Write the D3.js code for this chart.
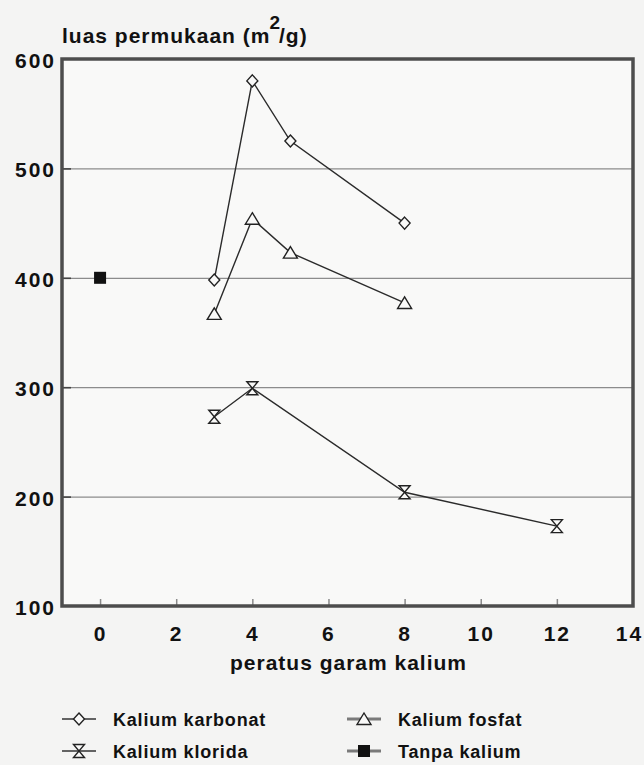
<!DOCTYPE html>
<html>
<head>
<meta charset="utf-8">
<script src="https://cdn.jsdelivr.net/npm/d3@7"></script>
<style>
  html, body { margin: 0; padding: 0; background: #f4f4f3; }
  svg { display: block; }
  text { font-family: "Liberation Sans", Arial, sans-serif; font-weight: bold; fill: #111; }
</style>
</head>
<body>
<svg id="chart" width="644" height="765"></svg>
<script>
// Surface area (m2/g) against percentage of potassium salt
const karbonatX = [3, 4, 5, 8];
const karbonatY = [398, 580, 525, 450];
const fosfatX = [3, 4, 5, 8];
const fosfatY = [367, 454, 423, 377];
const kloridaX = [3, 4, 8, 12];
const kloridaY = [273, 299, 204, 173];
const tanpaX = [0];
const tanpaY = [400];

const xTicks = [0, 2, 4, 6, 8, 10, 12, 14];
const xInnerTicks = [0, 2, 4, 6, 8, 10, 12];
const yTicks = [100, 200, 300, 400, 500, 600];
const yGrid = [200, 300, 400, 500];

const seriesNames = ["Kalium karbonat", "Kalium fosfat", "Kalium klorida", "Tanpa kalium"];

const svg = d3.select("#chart");
const plotLeft = 62, plotRight = 633, plotTop = 59, plotBottom = 606;
const FONT = "'Liberation Sans', Arial, sans-serif";

const x = d3.scaleLinear().domain([-1, 14]).range([plotLeft, plotRight]);
const y = d3.scaleLinear().domain([100, 600]).range([plotBottom, plotTop]);

// plot background
svg.append("rect")
  .attr("x", plotLeft).attr("y", plotTop)
  .attr("width", plotRight - plotLeft).attr("height", plotBottom - plotTop)
  .attr("fill", "#f9f9f8");

// horizontal grid lines
svg.append("g")
  .attr("transform", `translate(${plotLeft},0)`)
  .call(d3.axisLeft(y).tickValues(yGrid).tickSize(-(plotRight - plotLeft)).tickFormat(""))
  .call(g => g.select(".domain").remove())
  .call(g => g.selectAll("line").attr("stroke", "#8c8c8c").attr("stroke-width", 1.2));

// short ticks on the left edge
svg.append("g")
  .attr("transform", `translate(${plotLeft},0)`)
  .call(d3.axisLeft(y).tickValues(yGrid).tickSize(-9).tickFormat(""))
  .call(g => g.select(".domain").remove())
  .call(g => g.selectAll("line").attr("stroke", "#444").attr("stroke-width", 1.6));

// y tick labels
svg.append("g")
  .attr("transform", `translate(${plotLeft},0)`)
  .call(d3.axisLeft(y).tickValues(yTicks).tickSize(0).tickPadding(6))
  .call(g => g.select(".domain").remove())
  .call(g => g.selectAll("text")
    .style("font-size", "21px").style("font-family", FONT).style("letter-spacing", "2px")
    .style("font-weight", "bold").attr("fill", "#111").attr("dy", "0.4em"));

// inner ticks on the bottom edge
svg.append("g")
  .attr("transform", `translate(0,${plotBottom})`)
  .call(d3.axisBottom(x).tickValues(xInnerTicks).tickSize(-7).tickFormat(""))
  .call(g => g.select(".domain").remove())
  .call(g => g.selectAll("line").attr("stroke", "#8a8a8a").attr("stroke-width", 1.5));

// x tick labels
svg.append("g")
  .attr("transform", `translate(0,${plotBottom})`)
  .call(d3.axisBottom(x).tickValues(xTicks).tickSize(0).tickPadding(20))
  .call(g => g.select(".domain").remove())
  .call(g => g.selectAll("text")
    .style("font-size", "21px").style("font-family", FONT).style("letter-spacing", "2px")
    .style("font-weight", "bold").attr("fill", "#111")
    .attr("dx", d => d === 14 ? "-4px" : "0px"));

// frame
svg.append("rect")
  .attr("x", plotLeft).attr("y", plotTop)
  .attr("width", plotRight - plotLeft).attr("height", plotBottom - plotTop)
  .attr("fill", "none").attr("stroke", "#4d4d4d").attr("stroke-width", 3.5);

// axis titles
const yTitle = svg.append("text").attr("x", 62).attr("y", 43)
  .style("font-size", "21px").style("letter-spacing", "1px");
yTitle.append("tspan").text("luas permukaan (m");
yTitle.append("tspan").attr("dx", -1).attr("dy", -14).style("font-size", "19px").text("2");
yTitle.append("tspan").attr("dx", -2).attr("dy", 14).text("/g)");

svg.append("text")
  .attr("x", (plotLeft + plotRight) / 2 + 1).attr("y", 670)
  .attr("text-anchor", "middle").style("font-size", "21px").style("letter-spacing", "1px")
  .text("peratus garam kalium");

// marker shapes
function diamond(g, cx, cy) {
  g.append("path")
    .attr("d", `M${cx},${cy - 6}L${cx + 5.5},${cy}L${cx},${cy + 6}L${cx - 5.5},${cy}Z`)
    .attr("fill", "#f9f9f8").attr("stroke", "#222").attr("stroke-width", 1.4);
}
function triangle(g, cx, cy) {
  g.append("path")
    .attr("d", `M${cx},${cy - 6}L${cx + 7},${cy + 5.5}L${cx - 7},${cy + 5.5}Z`)
    .attr("fill", "#f9f9f8").attr("stroke", "#222").attr("stroke-width", 1.4);
}
function hourglass(g, cx, cy) {
  g.append("path")
    .attr("d", `M${cx - 5.5},${cy - 6.5}L${cx + 5.5},${cy - 6.5}L${cx - 5.5},${cy + 6.5}L${cx + 5.5},${cy + 6.5}Z`)
    .attr("fill", "#f9f9f8").attr("stroke", "#222").attr("stroke-width", 1.4);
}
function square(g, cx, cy) {
  g.append("rect")
    .attr("x", cx - 6).attr("y", cy - 6).attr("width", 12).attr("height", 12)
    .attr("fill", "#111");
}

const series = [
  { name: seriesNames[0], xs: karbonatX, ys: karbonatY, marker: diamond },
  { name: seriesNames[1], xs: fosfatX, ys: fosfatY, marker: triangle },
  { name: seriesNames[2], xs: kloridaX, ys: kloridaY, marker: hourglass },
  { name: seriesNames[3], xs: tanpaX, ys: tanpaY, marker: square }
];

const line = d3.line().x(d => x(d[0])).y(d => y(d[1]));
const plot = svg.append("g");
series.forEach(s => {
  const pts = s.xs.map((v, i) => [v, s.ys[i]]);
  if (pts.length > 1) {
    plot.append("path").datum(pts).attr("d", line)
      .attr("fill", "none").attr("stroke", "#2b2b2b").attr("stroke-width", 1.4);
  }
  pts.forEach(p => s.marker(plot, x(p[0]), y(p[1])));
});

// legend: two columns, two rows
const legendPos = [
  { sx: 79, sy: 719, tx: 113, stroke: "#333", sw: 1.5 },
  { sx: 364, sy: 719, tx: 398, stroke: "#7a7a7a", sw: 3 },
  { sx: 79, sy: 751, tx: 113, stroke: "#333", sw: 1.5 },
  { sx: 364, sy: 751, tx: 398, stroke: "#7a7a7a", sw: 3 }
];
const legend = svg.append("g");
series.forEach((s, i) => {
  const p = legendPos[i];
  legend.append("line")
    .attr("x1", p.sx - 17).attr("x2", p.sx + 17)
    .attr("y1", p.sy).attr("y2", p.sy)
    .attr("stroke", p.stroke).attr("stroke-width", p.sw);
  s.marker(legend, p.sx, p.sy);
  legend.append("text").attr("x", p.tx).attr("y", p.sy + 7)
    .style("font-size", "18px").style("letter-spacing", "0.8px")
    .text(s.name);
});
</script>
</body>
</html>
